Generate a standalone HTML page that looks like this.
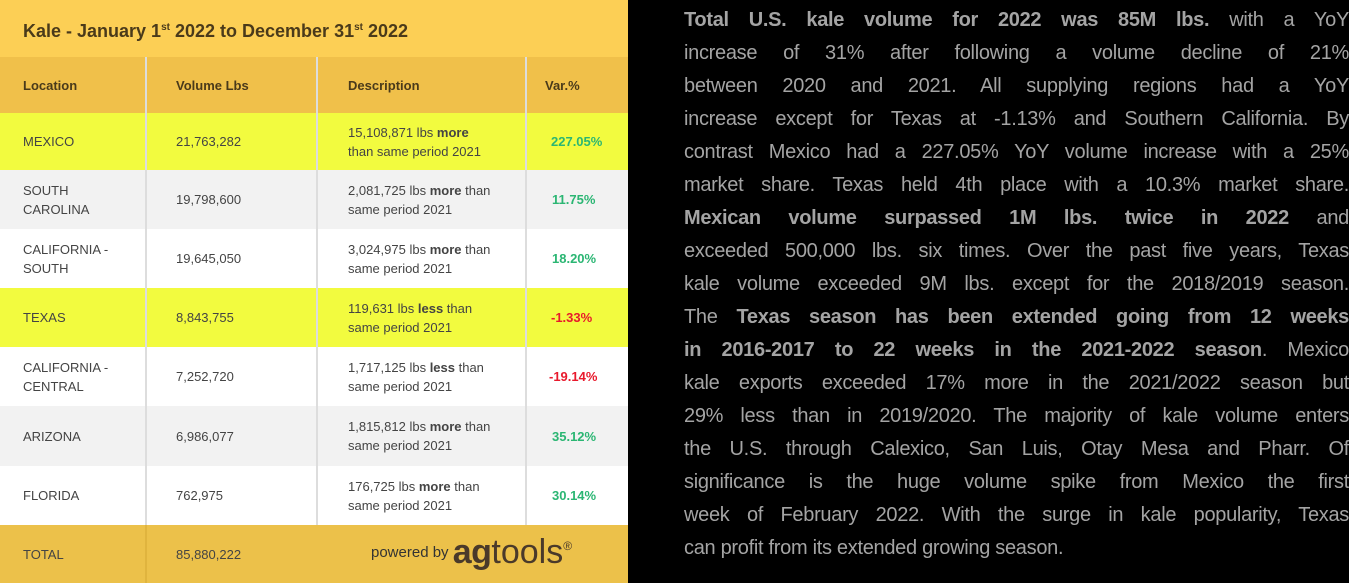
<!DOCTYPE html>
<html><head><meta charset="utf-8">
<style>
body{margin:0;width:1349px;height:583px;background:#000;overflow:hidden;font-family:"Liberation Sans",sans-serif;position:relative}
#tbl{position:absolute;left:0;top:0;width:628px;height:583px;background:#fff}
.band{position:absolute;left:0;width:628px}
.cell{position:absolute;font-size:13px;color:#444;display:flex;align-items:center;line-height:19px}
.vl{position:absolute;width:2px;background:#ddd}
.hd{font-weight:bold;color:#4a3a1a}
.pos{color:#2bb673;font-weight:bold}
.neg{color:#e8192c;font-weight:bold}
#text{position:absolute;left:684px;top:4px;width:665px;color:#a4a4a4;font-size:20px;line-height:33px;letter-spacing:-0.3px}
#text div{text-align:justify;text-align-last:justify;white-space:nowrap}
#text div.last{text-align-last:left}
</style></head><body>
<div id="tbl">
<div class="band" style="top:0;height:57px;background:#fccf55"></div>
<div class="cell hd" style="left:23px;top:18px;font-size:18px"><span>Kale - January 1<sup style="font-size:10px">st</sup> 2022 to December 31<sup style="font-size:10px">st</sup> 2022</span></div>
<div class="band" style="top:57px;height:56px;background:#f0c04a"></div>
<div class="band" style="top:113px;height:57px;background:#f2fb3f"></div>
<div class="band" style="top:170px;height:59px;background:#f2f2f2"></div>
<div class="band" style="top:288px;height:59px;background:#f2fb3f"></div>
<div class="band" style="top:406px;height:60px;background:#f2f2f2"></div>
<div class="band" style="top:525px;height:58px;background:#ecc14a"></div>
<div class="vl" style="left:145px;top:57px;height:526px"></div>
<div class="vl" style="left:316px;top:57px;height:468px"></div>
<div class="vl" style="left:525px;top:57px;height:468px"></div>
<div class="vl" style="left:145px;top:525px;height:58px;background:#e0b43e"></div>

<div class="cell hd" style="left:23px;top:57px;height:56px">Location</div>
<div class="cell hd" style="left:176px;top:57px;height:56px">Volume Lbs</div>
<div class="cell hd" style="left:348px;top:57px;height:56px">Description</div>
<div class="cell hd" style="left:545px;top:57px;height:56px">Var.%</div>

<div id="rows"></div>

<div class="cell" style="left:23px;top:525px;height:58px">TOTAL</div>
<div class="cell" style="left:176px;top:525px;height:58px">85,880,222</div>
<div class="cell" style="left:371px;top:525px;height:55px;font-size:15px;color:#333">powered by&nbsp;<span style="font-size:34px;color:#4a3a2a;font-weight:bold;letter-spacing:-0.5px">ag</span><span style="font-size:34px;color:#4a3a2a">tools</span><sup style="font-size:12px;color:#4a3a2a;align-self:flex-start;margin-top:12px">®</sup></div>
</div>

<div id="text">
<div><b>Total U.S. kale volume for 2022 was 85M lbs.</b> with a YoY</div>
<div>increase of 31% after following a volume decline of 21%</div>
<div>between 2020 and 2021. All supplying regions had a YoY</div>
<div>increase except for Texas at -1.13% and Southern California. By</div>
<div>contrast Mexico had a 227.05% YoY volume increase with a 25%</div>
<div>market share. Texas held 4th place with a 10.3% market share.</div>
<div><b>Mexican volume surpassed 1M lbs. twice in 2022</b> and</div>
<div>exceeded 500,000 lbs. six times. Over the past five years, Texas</div>
<div>kale volume exceeded 9M lbs. except for the 2018/2019 season.</div>
<div>The <b>Texas season has been extended going from 12 weeks</b></div>
<div><b>in 2016-2017 to 22 weeks in the 2021-2022 season</b>. Mexico</div>
<div>kale exports exceeded 17% more in the 2021/2022 season but</div>
<div>29% less than in 2019/2020. The majority of kale volume enters</div>
<div>the U.S. through Calexico, San Luis, Otay Mesa and Pharr. Of</div>
<div>significance is the huge volume spike from Mexico the first</div>
<div>week of February 2022. With the surge in kale popularity, Texas</div>
<div class="last">can profit from its extended growing season.</div>
</div>

<script>
const locations=["MEXICO","SOUTH<br>CAROLINA","CALIFORNIA -<br>SOUTH","TEXAS","CALIFORNIA -<br>CENTRAL","ARIZONA","FLORIDA"];
const volumes=["21,763,282","19,798,600","19,645,050","8,843,755","7,252,720","6,986,077","762,975"];
const diffs=["15,108,871","2,081,725","3,024,975","119,631","1,717,125","1,815,812","176,725"];
const variances=[227.05,11.75,18.20,-1.33,-19.14,35.12,30.14];
const rowTops=[113,170,229,288,347,406,466,525];
const rows=document.getElementById('rows');
function mk(cls,left,top,h,html,name){
  const d=document.createElement('div');
  d.className='cell '+cls;
  d.style.left=left+'px';d.style.top=top+'px';d.style.height=h+'px';
  d.innerHTML='<span>'+html+'</span>';
  
  
  rows.appendChild(d);
}
for(let i=0;i<locations.length;i++){
  const t=rowTops[i],h=rowTops[i+1]-t;
  const v=variances[i];
  const word=v>=0?'more':'less';
  mk('',23,t,h,locations[i],'location-cell');
  mk('',176,t,h,volumes[i],'volume-cell');
  const desc=(i===0)?diffs[i]+' lbs <b>'+word+'</b><br>than same period 2021':diffs[i]+' lbs <b>'+word+'</b> than<br>same period 2021';
  mk('',348,t,h,desc,'description-cell');
  mk(v>=0?'pos':'neg',v>=100?551:(v<=-10?549:(v<0?551:552)),t,h,v.toFixed(2)+'%','variance-cell');
}
</script>
</body></html>
